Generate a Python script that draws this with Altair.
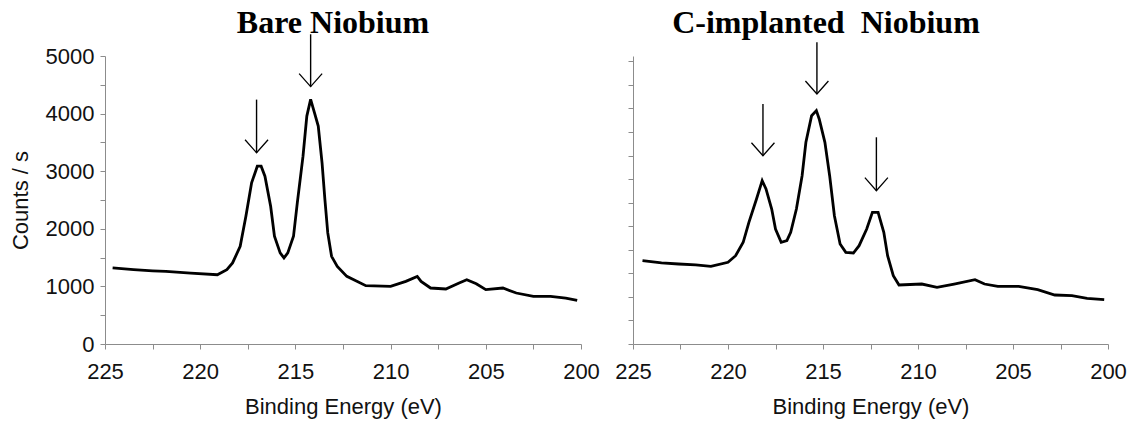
import altair as alt
import pandas as pd

# ---- data ----
left_energy = [224.6, 223.5, 222.5, 221.8, 220.5, 219.1, 218.6, 218.3, 217.9, 217.6,
               217.3, 217.0, 216.8, 216.6, 216.3, 216.1, 215.8, 215.6, 215.4, 215.1,
               214.9, 214.6, 214.4, 214.2, 214.0, 213.8, 213.6, 213.45, 213.3, 213.1,
               212.8, 212.3, 211.3, 210.0, 209.2, 208.6, 208.4, 207.9, 207.1, 206.4,
               206.0, 205.5, 205.0, 204.1, 203.4, 202.5, 201.6, 200.8, 200.2]
left_counts = [1320, 1290, 1270, 1261, 1230, 1203, 1290, 1407, 1696, 2217,
               2798, 3087, 3087, 2913, 2391, 1870, 1581, 1494, 1581, 1870,
               2450, 3261, 3957, 4247, 4016, 3783, 3146, 2508, 1928, 1522,
               1348, 1174, 1012, 1000, 1087, 1174, 1087, 972, 955, 1059,
               1117, 1047, 943, 972, 885, 826, 826, 798, 757]

right_energy = [224.5, 223.5, 222.6, 221.7, 220.9, 220.0, 219.6, 219.2, 218.9, 218.5,
                218.2, 218.0, 217.7, 217.5, 217.2, 216.9, 216.7, 216.4, 216.1, 215.9,
                215.6, 215.35, 215.2, 214.9, 214.65, 214.4, 214.1, 213.8, 213.4, 213.1,
                212.7, 212.4, 212.1, 211.8, 211.6, 211.3, 211.0, 209.8, 209.0, 208.1,
                207.0, 206.5, 205.8, 204.7, 203.7, 202.8, 201.9, 201.1, 200.2]
right_counts = [1768, 1720, 1698, 1680, 1649, 1734, 1874, 2158, 2583, 3077,
                3466, 3290, 2865, 2441, 2158, 2193, 2371, 2865, 3572, 4280,
                4845, 4952, 4775, 4280, 3572, 2723, 2122, 1946, 1931, 2087,
                2441, 2795, 2795, 2371, 1874, 1450, 1252, 1273, 1203, 1273,
                1365, 1273, 1224, 1224, 1153, 1040, 1025, 970, 940]

left_arrow_energy = [217.04, 214.2]
left_arrow_top = [4243, 5377]
left_arrow_tip = [3320, 4468]

right_arrow_energy = [218.16, 215.32, 212.19]
right_arrow_top = [5093, 6403, 4387]
right_arrow_tip = [3996, 5306, 3254]

x_ticks = [225, 222.5, 220, 217.5, 215, 212.5, 210, 207.5, 205, 202.5, 200]
left_y_ticks = [0, 500, 1000, 1500, 2000, 2500, 3000, 3500, 4000, 4500, 5000]
right_y_ticks = [0, 500, 1000, 1500, 2000, 2500, 3000, 3500, 4000, 4500, 5000, 5500, 6000]

titles = ["Bare Niobium", "C-implanted\u00a0 Niobium"]

AXIS_GRAY = "#8c8c8c"
TEXT = "#111111"
SANS = "Liberation Sans"


def panel(energy, counts, a_e, a_top, a_tip, ydomain, yticks, show_ylabels, title, title_x, width):
    line_df = pd.DataFrame({"e": energy, "c": counts})
    arrow_df = pd.DataFrame({"e": a_e, "c": a_tip, "top": a_top})
    title_df = pd.DataFrame({"t": [title]})

    x = alt.X(
        "e:Q",
        scale=alt.Scale(domain=[225, 200], nice=False, zero=False),
        axis=alt.Axis(
            values=x_ticks,
            labelExpr="datum.value % 5 == 0 ? datum.label : ''",
            title="Binding Energy (eV)",
            titleFont=SANS, titleFontSize=22, titleFontWeight="normal", titleColor=TEXT,
            titleY=62, titleBaseline="middle",
            labelFont=SANS, labelFontSize=22, labelColor=TEXT,
            labelPadding=12, tickSize=5, tickColor=AXIS_GRAY, domainColor=AXIS_GRAY,
            grid=False, labelFlush=False, labelOverlap=False,
        ),
    )
    if show_ylabels:
        yaxis = alt.Axis(
            values=yticks,
            labelExpr="datum.value % 1000 == 0 ? datum.label : ''",
            format="d",
            title="Counts / s",
            titleFont=SANS, titleFontSize=22, titleFontWeight="normal", titleColor=TEXT,
            titleX=-85, titleY=144, titleBaseline="middle", titleAlign="center", titleAngle=270,
            labelFont=SANS, labelFontSize=22, labelColor=TEXT,
            labelPadding=6, tickSize=5, tickColor=AXIS_GRAY, domainColor=AXIS_GRAY,
            grid=False, labelOverlap=False,
        )
    else:
        yaxis = alt.Axis(
            values=yticks, labels=False, title="",
            tickSize=5, tickColor=AXIS_GRAY, domainColor=AXIS_GRAY, grid=False,
        )
    y = alt.Y("c:Q", scale=alt.Scale(domain=ydomain, nice=False, zero=True), axis=yaxis)

    line = alt.Chart(line_df).mark_line(color="black", strokeWidth=2.8).encode(x=x, y=y)
    shafts = alt.Chart(arrow_df).mark_rule(color="black", strokeWidth=1.4).encode(
        x=x, y=y, y2="top:Q")
    heads = alt.Chart(arrow_df).mark_point(
        shape="M-1,-1.13L0,0L1,-1.13", size=529, filled=False,
        color="black", strokeWidth=1.3, opacity=1,
    ).encode(x=x, y=y)
    head_title = alt.Chart(title_df).mark_text(
        font="Liberation Serif", fontSize=32, fontWeight="bold", color="black",
        align="center", baseline="alphabetic",
    ).encode(text="t:N", x=alt.value(title_x), y=alt.value(-22.7))

    return alt.layer(line, shafts, heads, head_title).properties(width=width, height=288)


left = panel(left_energy, left_counts, left_arrow_energy, left_arrow_top, left_arrow_tip,
             [0, 5000], left_y_ticks, True, titles[0], 228, 476)
right = panel(right_energy, right_counts, right_arrow_energy, right_arrow_top, right_arrow_tip,
              [0, 6112], right_y_ticks, False, titles[1], 193, 475)

chart = alt.hconcat(left, right, spacing=52, bounds="flush").properties(
    padding={"left": 9, "top": 7, "right": 5, "bottom": 5},
    background="white",
).configure_view(strokeWidth=0)

chart.save("out.html", embed_options={"renderer": "svg", "actions": False})
